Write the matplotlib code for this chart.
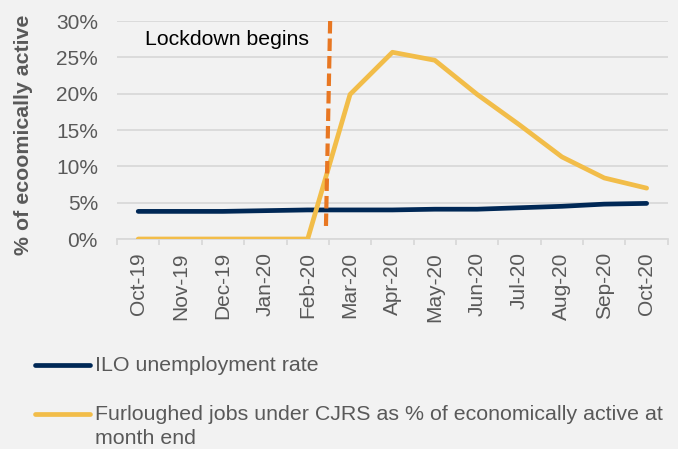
import matplotlib
matplotlib.use("Agg")
import matplotlib.pyplot as plt
from matplotlib.lines import Line2D
from matplotlib.ticker import FuncFormatter, MultipleLocator
import numpy as np

# monthly data, Oct-19 .. Oct-20
months = ['Oct-19', 'Nov-19', 'Dec-19', 'Jan-20', 'Feb-20', 'Mar-20', 'Apr-20',
          'May-20', 'Jun-20', 'Jul-20', 'Aug-20', 'Sep-20', 'Oct-20']
ilo_rate = [3.8, 3.8, 3.8, 3.9, 4.0, 4.0, 4.0, 4.1, 4.1, 4.3, 4.5, 4.8, 4.9]
furlough = [0.0, 0.0, 0.0, 0.0, 0.0, 19.9, 25.7, 24.6, 19.9, 15.7, 11.3, 8.4, 7.0]
lockdown_x = [4.43, 4.53]
lockdown_y = [1.4, 30.0]

bg = '#f2f2f2'
grey = '#595959'
plt.rcParams['font.family'] = ['Liberation Sans', 'DejaVu Sans']

fig = plt.figure(figsize=(6.78, 4.49), dpi=100, facecolor=bg)
ax = fig.add_axes([0.1726, 0.4677, 0.8124, 0.4855], facecolor=bg)

x = np.arange(len(months))
ax.plot(x, ilo_rate, color='#002856', lw=3.4, solid_capstyle='round', zorder=3)
ax.plot(x, furlough, color='#f2bd49', lw=3.4, solid_capstyle='round', zorder=3)
ax.plot(lockdown_x[::-1], lockdown_y[::-1], color='#e87722', lw=3.0,
        dashes=(3.0, 1.2), zorder=4)
ax.text(2.09, 26.7, 'Lockdown begins', fontsize=15.3, color='black',
        ha='center', va='baseline')

ax.set_xlim(-0.5, 12.5)
ax.set_ylim(0, 30)
ax.yaxis.set_major_locator(MultipleLocator(5))
ax.yaxis.set_major_formatter(FuncFormatter(lambda v, p: '%d%%' % v))
ax.grid(axis='y', color='#d9d9d9', lw=1.3)
ax.set_axisbelow(True)
for s in ['top', 'right', 'left']:
    ax.spines[s].set_visible(False)
ax.spines['bottom'].set_color('#d9d9d9')
ax.spines['bottom'].set_linewidth(1.3)

ax.set_xticks(x)
ax.set_xticklabels(months, rotation=90, fontsize=15, color=grey)
ax.set_xticks(np.arange(-0.5, 13, 1), minor=True)
ax.tick_params(axis='x', which='major', length=0, pad=9.5)
ax.tick_params(axis='x', which='minor', length=4, color='#d9d9d9', width=1.3)
ax.tick_params(axis='y', length=0, labelsize=15, labelcolor=grey, pad=13.7)
ax.set_ylabel('% of ecoomically active', fontsize=15.4, fontweight='bold',
              color=grey)
ax.yaxis.set_label_coords(-0.152, 0.477)

# legend drawn by hand so the handle sits on the first line of the label
def leg_entry(y_px, color, lines):
    y = 1 - y_px / 449
    fig.add_artist(Line2D([35 / 678, 90 / 678], [y, y], color=color, lw=3.4,
                          solid_capstyle='round', transform=fig.transFigure))
    for i, line in enumerate(lines):
        fig.text(95 / 678, 1 - (y_px + 23.5 * i + 6) / 449, line, fontsize=15.4,
                 color=grey, va='baseline', ha='left')

leg_entry(365, '#002856', ['ILO unemployment rate'])
leg_entry(414, '#f2bd49', ['Furloughed jobs under CJRS as % of economically active at',
                           'month end'])

fig.savefig('out.png', dpi=100, facecolor=bg)
